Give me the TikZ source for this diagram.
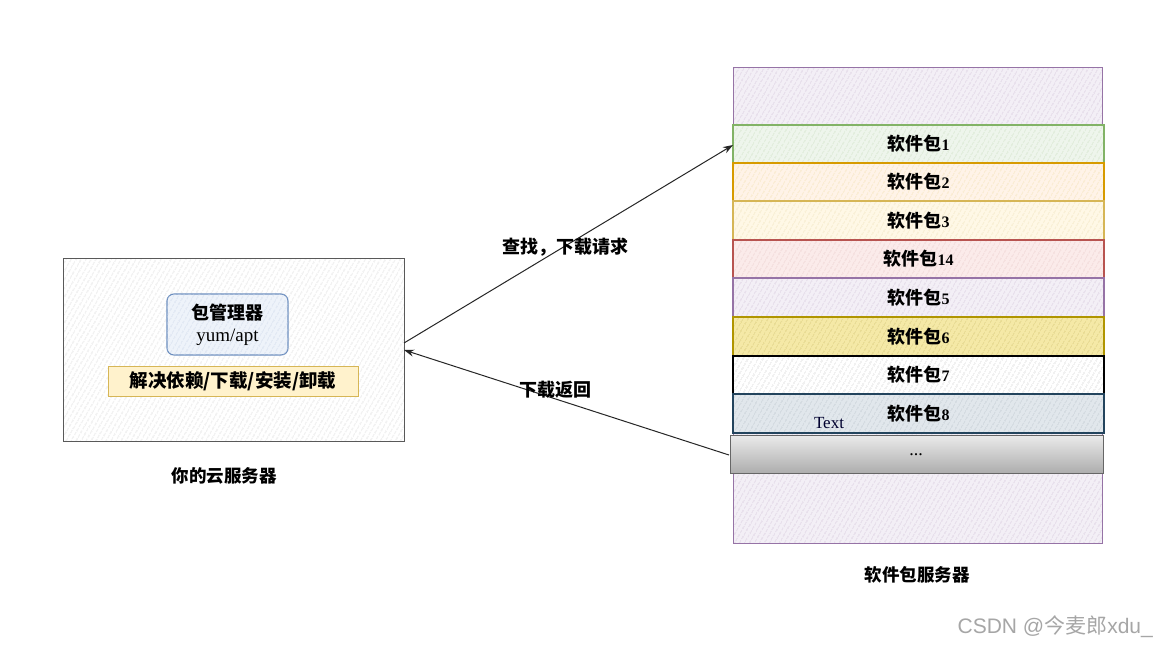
\documentclass[tikz,border=0pt]{standalone}
\usepackage{fontspec}
\setmainfont{Liberation Serif}
\newfontfamily\cjk{Noto Sans CJK SC}
\newfontfamily\wm{Liberation Sans}
\usetikzlibrary{patterns.meta,arrows.meta}
\definecolor{purpB}{HTML}{9673A6}
\definecolor{purpF}{HTML}{F3EFF6}
\definecolor{grnB}{HTML}{82B366}
\definecolor{grnF}{HTML}{EEF5EC}
\definecolor{orgB}{HTML}{D79B00}
\definecolor{orgF}{HTML}{FFF3E8}
\definecolor{ylwB}{HTML}{D6B656}
\definecolor{ylwF}{HTML}{FFF8E6}
\definecolor{redB}{HTML}{B85450}
\definecolor{redF}{HTML}{FBEBEA}
\definecolor{gldB}{HTML}{B09500}
\definecolor{gldF}{HTML}{F5E9A6}
\definecolor{bluB}{HTML}{23445D}
\definecolor{bluF}{HTML}{E1E7EC}
\definecolor{pmB}{HTML}{6C8EBF}
\definecolor{pmF}{HTML}{EEF3FA}
\definecolor{yelB}{HTML}{D6B656}
\definecolor{yelF}{HTML}{FFF2CC}
\tikzset{
  x=1pt,y=-1pt,
  hatch/.style={pattern={Lines[angle=60,distance=4pt,line width=0.6pt]},pattern color=#1},
  lbl/.style={font=\cjk\bfseries\fontsize{18}{20}\selectfont,inner sep=0pt},
  arr/.style={draw=black!85,line width=1pt,-{Stealth[length=10pt,width=7pt]}},
}
\newcommand{\pk}[1]{{\cjk\bfseries 软件包}{\rmfamily\fontsize{16}{18}\selectfont #1}}
\begin{document}
\begin{tikzpicture}
\useasboundingbox[fill=white] (0,0) rectangle (1157,646);
% left box
\path[fill=white] (63,258) rectangle (404,441);
\path[hatch=black!14] (63,258) rectangle (404,441);
\draw[black!65,line width=0.9pt] (63,258) rectangle (404,441);
\node[inner sep=0pt,minimum width=341pt,minimum height=183pt] (cli) at (233.5,349.5) {};
% package manager
\draw[pmB,line width=1.1pt,fill=pmF,rounded corners=7pt] (167,294) rectangle (288,355);
\path[hatch=pmB!35,rounded corners=7pt] (167,294) rectangle (288,355);
\node[lbl] (pm) at (227.5,313) {包管理器};
\node[inner sep=0pt,font=\rmfamily\fontsize{19}{21}\selectfont] (yum) at (227.5,337) {yum/apt};
% yellow bar
\draw[yelB,line width=0.9pt,fill=yelF] (108,366) rectangle (358,396);
\node[lbl,font=\cjk\bfseries\fontsize{18.5}{20}\selectfont] (ops) at (233,381) {解决依赖/下载/安装/卸载};
\node[lbl,font=\cjk\bfseries\fontsize{17.5}{19}\selectfont] (cliL) at (224,476) {你的云服务器};
% right server
\path[fill=purpF] (733,67) rectangle (1102,543);
\path[hatch=purpB!40] (733,67) rectangle (1102,543);
\draw[purpB,line width=0.9pt] (733,67) rectangle (1102,543);
\node[inner sep=0pt,minimum width=369pt,minimum height=476pt] (srv) at (917.5,305) {};
\node[lbl,font=\cjk\bfseries\fontsize{17.5}{19}\selectfont] (srvL) at (917,575) {软件包服务器};
% rows
\foreach \yt/\yb/\bc/\fc/\hc/\t/\nm in {
 125/163/grnB/grnF/grnB!40/1/p1,
 163/201/orgB/orgF/orgB!30/2/p2,
 201/240/ylwB/ylwF/ylwB!40/3/p3,
 240/278/redB/redF/redB!30/14/p14,
 278/317/purpB/purpF/purpB!40/5/p5,
 317/356/gldB/gldF/gldB!55/6/p6,
 356/394/black/white/black!15/7/p7,
 394/433/bluB/bluF/bluB!30/8/p8}{
  \path[fill=\fc] (733,\yt) rectangle (1104,\yb);
  \path[hatch=\hc] (733,\yt) rectangle (1104,\yb);
  \draw[\bc,line width=1.1pt] (733,\yt) rectangle (1104,\yb);
  \node[lbl] (\nm) at (918.5,{(\yt+\yb)/2}) {\pk{\t}};
}
% gray dots row
\shade[top color=white!92!black,bottom color=black!32] (730,435) rectangle (1103,473);
\draw[black!60,line width=1pt] (730,435) rectangle (1103,473);
\node[inner sep=0pt,font=\rmfamily\fontsize{18}{20}\selectfont] (dots) at (916,455) {...};
\node[inner sep=0pt,text=black!70!blue!60!black,font=\rmfamily\fontsize{17}{19}\selectfont] (txt) at (829,423) {Text};
% arrows
\coordinate (a1s) at (404,343);
\coordinate (a1e) at (733,145);
\coordinate (a2s) at (729,455);
\coordinate (a2e) at (404,350);
\draw[arr] (a1s) -- (a1e);
\draw[arr] (a2s) -- (a2e);
\node[lbl] (q) at (565,247) {查找，下载请求};
\node[lbl] (r) at (555,390) {下载返回};
% watermark
\node[inner sep=0pt,text=black!35,anchor=east] (wm) at (1153,627) {\fontsize{21}{23}\selectfont\wm CSDN @\cjk 今麦郎\wm xdu\_};
\end{tikzpicture}
\end{document}
